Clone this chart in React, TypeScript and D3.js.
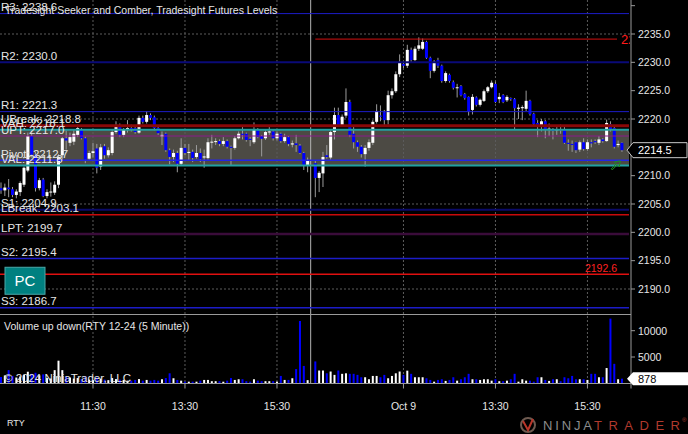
import * as d3 from "d3";
import React from "react";

// RTY 12-24, 5 minute bars: [open, high, low, close]
const session1Bars: number[][] = [
  [2207.8, 2208.8, 2206.8, 2207.4], [2207.4, 2208.6, 2206.4, 2207.9], [2207.9, 2209.4, 2206.2, 2207.6],
  [2207.6, 2208.0, 2206.2, 2206.6], [2206.6, 2207.6, 2206.0, 2207.2], [2207.1, 2209.0, 2206.4, 2208.7],
  [2208.4, 2211.6, 2208.0, 2211.4], [2210.9, 2217.6, 2210.6, 2217.0], [2217.0, 2218.0, 2213.2, 2213.7],
  [2213.7, 2214.2, 2207.2, 2207.8], [2207.8, 2209.6, 2207.4, 2209.2], [2209.3, 2209.6, 2206.2, 2206.4],
  [2206.4, 2207.6, 2206.0, 2207.1], [2207.1, 2208.8, 2206.3, 2207.2], [2207.0, 2209.0, 2206.6, 2208.4],
  [2208.4, 2213.8, 2207.8, 2213.3], [2213.6, 2216.8, 2212.8, 2216.6], [2216.6, 2218.0, 2214.6, 2216.2],
  [2215.8, 2217.6, 2215.2, 2216.8], [2216.0, 2218.2, 2215.4, 2217.4], [2217.2, 2219.0, 2216.8, 2218.4],
  [2218.2, 2218.4, 2216.4, 2216.6], [2216.6, 2216.9, 2212.2, 2212.8], [2213.0, 2214.4, 2212.6, 2214.0],
  [2214.0, 2215.8, 2213.2, 2214.3], [2214.8, 2215.6, 2210.4, 2211.4], [2211.6, 2215.6, 2211.0, 2215.0],
  [2215.2, 2215.6, 2213.0, 2213.6], [2213.6, 2215.0, 2213.2, 2214.5], [2214.0, 2218.2, 2213.6, 2217.7],
  [2217.7, 2219.6, 2217.4, 2218.9], [2218.9, 2219.2, 2216.8, 2217.2], [2217.2, 2218.4, 2216.8, 2218.1],
  [2218.2, 2219.8, 2217.6, 2218.4], [2218.4, 2219.0, 2217.8, 2218.2], [2218.4, 2218.6, 2217.4, 2217.7],
  [2217.6, 2220.6, 2217.4, 2220.2], [2220.2, 2220.6, 2219.2, 2219.5], [2219.5, 2221.4, 2219.2, 2220.7],
  [2220.7, 2221.0, 2219.8, 2220.2], [2220.3, 2220.6, 2218.0, 2218.4], [2218.4, 2218.6, 2217.2, 2217.5],
  [2216.9, 2217.8, 2215.4, 2217.2], [2217.4, 2217.6, 2214.2, 2214.5], [2214.5, 2214.8, 2212.0, 2213.3],
  [2213.3, 2214.6, 2212.4, 2214.0], [2214.0, 2214.4, 2210.6, 2212.1], [2212.1, 2216.6, 2211.8, 2214.9],
  [2214.9, 2215.6, 2213.6, 2214.0], [2214.0, 2215.6, 2212.6, 2214.2], [2214.2, 2214.6, 2212.4, 2213.1],
  [2213.3, 2215.4, 2213.0, 2214.0], [2214.0, 2214.8, 2212.4, 2212.9], [2213.2, 2214.6, 2211.4, 2213.4],
  [2213.1, 2216.6, 2212.8, 2215.9], [2215.9, 2217.2, 2214.8, 2216.0], [2216.0, 2216.6, 2215.4, 2216.1],
  [2216.1, 2216.4, 2215.2, 2215.6], [2215.6, 2216.8, 2215.2, 2216.1], [2216.1, 2216.4, 2214.8, 2215.1],
  [2215.1, 2215.3, 2211.8, 2214.9], [2214.9, 2217.0, 2214.6, 2216.6], [2216.6, 2217.8, 2216.4, 2217.4],
  [2217.4, 2218.6, 2216.4, 2217.2], [2217.4, 2217.6, 2216.0, 2216.3], [2216.5, 2216.8, 2215.2, 2216.3],
  [2215.9, 2219.4, 2215.6, 2218.1], [2218.1, 2218.4, 2216.6, 2216.8], [2217.0, 2217.2, 2213.4, 2216.5],
  [2216.6, 2218.0, 2216.3, 2217.7], [2217.7, 2218.6, 2217.2, 2217.8], [2217.8, 2218.0, 2216.2, 2216.6],
  [2216.6, 2217.8, 2216.2, 2217.4], [2217.4, 2217.6, 2215.8, 2216.1], [2216.1, 2217.4, 2215.8, 2216.8],
  [2216.8, 2217.0, 2215.2, 2215.6], [2215.5, 2216.2, 2215.0, 2215.7], [2215.7, 2217.2, 2214.2, 2215.4],
  [2215.3, 2215.6, 2213.8, 2214.0], [2214.0, 2214.2, 2211.0, 2211.7], [2211.8, 2213.2, 2210.6, 2212.7],
];

const session2Bars: number[][] = [
  [2212.2, 2212.6, 2206.2, 2209.6], [2209.6, 2210.8, 2207.1, 2210.5], [2210.4, 2214.2, 2208.0, 2213.3],
  [2213.6, 2215.4, 2213.0, 2213.3], [2213.2, 2218.0, 2212.8, 2217.7], [2217.7, 2222.0, 2216.4, 2220.7],
  [2220.7, 2222.0, 2218.6, 2218.9], [2218.9, 2220.8, 2218.6, 2220.4], [2220.6, 2225.4, 2220.2, 2223.0],
  [2223.0, 2223.4, 2216.8, 2217.2], [2217.4, 2218.6, 2214.8, 2215.9], [2215.9, 2216.2, 2214.2, 2215.1],
  [2215.1, 2215.4, 2213.2, 2213.8], [2213.8, 2215.4, 2211.6, 2214.9], [2214.9, 2216.4, 2214.4, 2215.9],
  [2215.8, 2219.8, 2215.4, 2219.5], [2219.5, 2222.6, 2219.2, 2221.4], [2220.6, 2222.4, 2219.6, 2220.4],
  [2221.2, 2221.6, 2218.8, 2219.8], [2219.8, 2225.0, 2219.0, 2224.2], [2224.2, 2225.4, 2223.6, 2224.9],
  [2224.9, 2228.4, 2224.6, 2227.9], [2227.9, 2231.4, 2227.4, 2229.9], [2229.7, 2230.0, 2229.0, 2229.4],
  [2229.4, 2233.1, 2229.0, 2232.2], [2232.2, 2232.6, 2230.0, 2230.4], [2230.4, 2232.8, 2230.2, 2232.4],
  [2232.4, 2234.4, 2232.0, 2233.0], [2232.4, 2234.2, 2232.2, 2233.6], [2233.6, 2233.8, 2230.6, 2230.8],
  [2230.8, 2231.0, 2227.2, 2228.5], [2228.5, 2230.4, 2228.2, 2230.1], [2230.4, 2230.8, 2229.0, 2229.4],
  [2229.4, 2229.6, 2226.4, 2226.7], [2226.7, 2228.4, 2226.4, 2228.1], [2227.8, 2228.0, 2226.4, 2226.7],
  [2226.5, 2226.8, 2225.2, 2225.5], [2225.5, 2226.2, 2223.8, 2225.6], [2225.8, 2226.0, 2224.0, 2224.2],
  [2224.4, 2224.6, 2223.4, 2223.7], [2223.9, 2224.0, 2220.6, 2221.4], [2221.6, 2224.4, 2220.8, 2223.9],
  [2223.8, 2224.0, 2222.2, 2222.5], [2222.5, 2223.6, 2222.2, 2223.4], [2223.2, 2225.2, 2223.0, 2224.9],
  [2224.9, 2225.8, 2224.6, 2225.6], [2225.6, 2226.8, 2225.4, 2226.4], [2226.2, 2226.6, 2222.8, 2223.0],
  [2223.5, 2224.6, 2222.8, 2223.9], [2224.2, 2224.4, 2222.8, 2223.0], [2223.3, 2224.2, 2223.0, 2223.9],
  [2223.7, 2223.8, 2223.2, 2223.5], [2223.5, 2223.7, 2218.1, 2221.9], [2221.8, 2222.6, 2220.0, 2222.0],
  [2221.9, 2222.4, 2219.8, 2222.1], [2221.8, 2225.0, 2221.4, 2223.2], [2223.2, 2223.4, 2220.6, 2220.9],
  [2220.9, 2221.1, 2218.9, 2219.1], [2219.3, 2219.8, 2216.8, 2218.8], [2218.8, 2220.0, 2217.8, 2219.6],
  [2219.6, 2219.8, 2216.6, 2218.1], [2218.1, 2219.2, 2217.0, 2218.3], [2218.1, 2218.4, 2216.4, 2218.0],
  [2218.0, 2218.6, 2217.2, 2218.2], [2218.2, 2219.0, 2217.4, 2218.1], [2218.2, 2218.6, 2215.6, 2215.8],
  [2215.8, 2216.4, 2214.4, 2215.6], [2215.6, 2216.2, 2214.2, 2215.5], [2215.9, 2216.0, 2214.0, 2214.5],
  [2214.6, 2216.2, 2214.2, 2215.9], [2215.9, 2216.6, 2214.4, 2214.7], [2214.7, 2216.4, 2214.4, 2215.9],
  [2215.9, 2216.4, 2215.0, 2215.7], [2216.1, 2216.4, 2215.6, 2215.9], [2215.8, 2217.0, 2215.4, 2216.4],
  [2216.4, 2216.6, 2215.8, 2216.1], [2216.1, 2219.9, 2216.0, 2219.3], [2219.1, 2219.6, 2217.8, 2218.1],
  [2218.4, 2218.6, 2214.8, 2215.1], [2215.4, 2216.2, 2215.0, 2215.6], [2215.8, 2215.9, 2214.2, 2214.5],
];

const session1Volume = [
  1200, 1500, 2500, 1400, 1100, 1300, 1600, 2200, 1800, 2000,
  1500, 1700, 1000, 900, 2500, 4300, 2500, 1200, 1100, 900,
  1000, 800, 1300, 700, 600, 1100, 900, 700, 600, 1000,
  800, 700, 640, 500, 500, 640, 800, 500, 640, 500,
  640, 500, 770, 1000, 1900, 960, 640, 500, 310, 310,
  310, 310, 500, 640, 640, 400, 400, 400, 300, 500,
  1000, 640, 770, 770, 400, 310, 770, 500, 400, 400,
  400, 400, 310, 1400, 640, 640, 960, 2700, 11850, 3300,
  600,
];

const session2Volume = [
  4160, 2430, 2430, 1900, 2240, 1600, 2430, 1800,
  1900, 1800, 1800, 1600, 1150, 1150, 770, 1400, 1400, 1150,
  1600, 960, 1400, 1900, 2240, 1600, 2400, 1800, 1150, 1150,
  1150, 960, 640, 310, 640, 770, 450, 640, 1150, 500,
  770, 1150, 1800, 770, 770, 640, 770, 770, 500, 770,
  400, 400, 500, 770, 1800, 310, 770, 500, 500, 310,
  1150, 1150, 640, 450, 770, 770, 400, 1150, 960, 1400,
  770, 770, 770, 640, 1800, 1800, 1150, 1150, 2900, 12300,
  3700, 770, 878,
];

const session2Start = 82;

const levelNames = ["R3", "R2", "R1", "UBreak", "VAH", "UPT", "Pivot", "VAL", "S1", "LBreak", "LPT", "S2", "S3"];
const levelValues = [2238.6, 2230.0, 2221.3, 2218.8, 2218.1, 2217.0, 2212.7, 2211.8, 2204.9, 2203.1, 2199.7, 2195.4, 2186.7];
const levelLinePrices = [2238.6, 2230.0, 2221.3, 2218.8, 2218.1, 2217.0, 2212.7, 2211.8, 2204.0, 2203.1, 2199.7, 2195.4, 2186.7];

const priceTicks = [2190, 2195, 2200, 2205, 2210, 2215, 2220, 2225, 2230, 2235, 2240];
const priceLabels = [2190, 2195, 2200, 2205, 2210, 2215, 2220, 2225, 2230, 2235];
const gridPrices = [2190, 2205, 2220, 2235];
const timeTickIndex = [24, 48, 72, 105, 129, 153];
const timeTickLabels = ["11:30", "13:30", "15:30", "Oct 9", "13:30", "15:30"];
const volumeTicks = [5000, 10000];
const alertTop = 2234.1;
const alertBottom = 2192.6;

const levelStyle: Record<string, { color: string; width: number }> = {
  R3: { color: "#1c1cc8", width: 1 },
  R2: { color: "#0a0a78", width: 2 },
  R1: { color: "#1c1cc8", width: 1 },
  UBreak: { color: "#8a0808", width: 3 },
  VAH: { color: "#20a2a2", width: 2 },
  UPT: { color: "#8b1a8b", width: 1 },
  Pivot: { color: "#2424e6", width: 1.5 },
  VAL: { color: "#20a2a2", width: 2 },
  S1: { color: "#0a0a6a", width: 2 },
  LBreak: { color: "#c80a0a", width: 1.5 },
  LPT: { color: "#3a0c3a", width: 2.5 },
  S2: { color: "#1c1cc8", width: 1.5 },
  S3: { color: "#1c1cc8", width: 1.5 },
};

const FONT = "'Liberation Sans', Arial, sans-serif";
const W = 688;
const H = 434;
const plotRight = 631;
const priceBottom = 314.5;
const volBottom = 383.5;

export default function App() {
  const bars = [
    ...session1Bars.map((b, i) => ({ i, o: b[0], h: b[1], l: b[2], c: b[3], v: session1Volume[i] })),
    ...session2Bars.map((b, i) => ({ i: i + session2Start, o: b[0], h: b[1], l: b[2], c: b[3], v: session2Volume[i] })),
  ];
  const last = bars[bars.length - 1];

  const x = d3.scaleLinear().domain([0, 162]).range([1, 1 + 3.833 * 162]);
  const y = d3.scaleLinear().domain([2190, 2235]).range([289, 34]);
  const yv = d3.scaleLinear().domain([0, 10000]).range([383.3, 330.7]);

  const breakX = x(session2Start - 1) - 0.8;
  const vah = y(levelLinePrices[levelNames.indexOf("VAH")]);
  const val = y(levelLinePrices[levelNames.indexOf("VAL")]);
  const axisColor = "#9a9a9a";
  const textColor = "#e6e6e6";

  const yLast = y(last.c);
  const yLastVol = yv(last.v);
  const yPC = y(alertBottom);

  // the last-price marker covers the axis label under it
  const visiblePriceLabels = priceLabels.filter(p => Math.abs(y(p) - yLast) > 9);

  return (
    <svg width={W} height={H} style={{ position: "absolute", left: 0, top: 0, display: "block" }} fontFamily={FONT}>
      <defs>
        <clipPath id="plotClip">
          <rect x={0} y={0} width={plotRight - 1} height={priceBottom} />
        </clipPath>
        <clipPath id="volClip">
          <rect x={0} y={priceBottom + 1} width={plotRight - 1} height={volBottom - priceBottom - 1} />
        </clipPath>
      </defs>
      <rect x={0} y={0} width={W} height={H} fill="#000" />

      <g clipPath="url(#plotClip)">
        {/* value area */}
        <rect x={0} y={vah} width={plotRight - 2} height={val - vah} fill="#4c4a44" />

        {gridPrices.map(p => (
          <line key={p} x1={0} x2={plotRight} y1={y(p)} y2={y(p)} stroke="#5c5c5c" strokeDasharray="2,2" />
        ))}
      </g>

      {/* vertical grid */}
      {timeTickIndex.map((t, k) => (
        <line key={k} x1={x(t)} x2={x(t)} y1={0} y2={volBottom} stroke="#5c5c5c" strokeDasharray="2,2" />
      ))}
      <line x1={breakX} x2={breakX} y1={0} y2={volBottom} stroke="#b4b4b4" strokeWidth={1} />

      <g clipPath="url(#plotClip)">
        {/* candles */}
        {bars.map(b => {
          const up = b.c >= b.o;
          const top = y(Math.max(b.o, b.c));
          const bot = y(Math.min(b.o, b.c));
          return (
            <g key={b.i}>
              <line x1={x(b.i)} x2={x(b.i)} y1={y(b.h)} y2={y(b.l)} stroke="#9c9c9c" strokeWidth={1} />
              <rect x={x(b.i) - 1.5} y={top} width={3} height={Math.max(1, bot - top)} fill={up ? "#ffffff" : "#0000ff"} />
            </g>
          );
        })}

        {/* levels */}
        {levelNames.map((name, k) => {
          const ly = y(levelLinePrices[k]);
          const st = levelStyle[name];
          return (
            <line key={name} x1={0} x2={plotRight - 2} y1={ly} y2={ly} stroke={st.color} strokeWidth={st.width} />
          );
        })}
        <line x1={x(session2Start)} x2={617} y1={y(alertTop)} y2={y(alertTop)} stroke="#d41010" strokeWidth={1} />
        <text x={621} y={y(alertTop) + 5} fontSize={13} fill="#ff1a1a">{alertTop.toFixed(1)}</text>
        <line x1={0} x2={plotRight - 2} y1={yPC} y2={yPC} stroke="#e01010" strokeWidth={1.5} />
        <text x={617} y={yPC - 2} fontSize={10.5} fill="#ff2020" textAnchor="end">{alertBottom.toFixed(1)}</text>

        {levelNames.map((name, k) => (
          <text key={name} x={1} y={y(levelLinePrices[k]) - 2.5} fontSize={11.5} fill={textColor}>
            {`${name}: ${levelValues[k].toFixed(1)}`}
          </text>
        ))}

        {/* drawing tool mark near last bar */}
        <path
          transform={`translate(${x(160) - 3},${y(last.l) + 9})`}
          d="M0,8 L5,3 L3,1 L9,0 L8,6 L6,4 L1,9 Z"
          fill="none"
          stroke="#1f8f1f"
          strokeWidth={1}
        />
      </g>

      {/* PC button */}
      <rect x={5} y={yPC - 7} width={40} height={27} fill="#008080" stroke="#4aa8a8" strokeWidth={1} />
      <text x={25} y={yPC + 11.5} fontSize={15} fill="#ffffff" textAnchor="middle">PC</text>

      <text x={5} y={14} fontSize={10.5} fill={textColor}>Tradesight Seeker and Comber, Tradesight Futures Levels</text>

      {/* volume */}
      <g clipPath="url(#volClip)">
        {bars.map(b => (
          <rect
            key={b.i}
            x={x(b.i) - 1}
            y={yv(b.v)}
            width={2}
            height={yv(0) - yv(b.v)}
            fill={b.c >= b.o ? "#ffffff" : "#0000ff"}
          />
        ))}
      </g>
      <text x={4} y={330} fontSize={10.5} fill={textColor}>Volume up down(RTY 12-24 (5 Minute))</text>
      <text x={4} y={382} fontSize={11.5} fill={textColor}>© 2024 NinjaTrader, LLC</text>

      {/* panel frame */}
      <line x1={0} x2={plotRight} y1={priceBottom} y2={priceBottom} stroke={axisColor} />
      <line x1={0} x2={plotRight} y1={volBottom} y2={volBottom} stroke={axisColor} />
      <line x1={plotRight} x2={plotRight} y1={0} y2={volBottom + 5} stroke={axisColor} />

      {/* price axis */}
      {priceTicks.map(p => (
        <line key={p} x1={plotRight} x2={plotRight + 4} y1={y(p)} y2={y(p)} stroke={axisColor} />
      ))}
      {visiblePriceLabels.map(p => (
        <text key={p} x={638} y={y(p) + 3.8} fontSize={10.5} fill={textColor}>{p.toFixed(1)}</text>
      ))}
      <path
        d={`M${plotRight - 4},${yLast} L${plotRight + 2},${yLast - 7.5} L${W - 1},${yLast - 7.5} L${W - 1},${yLast + 7.5} L${plotRight + 2},${yLast + 7.5} Z`}
        fill="#000"
        stroke="#c8c8c8"
      />
      <text x={638} y={yLast + 4} fontSize={11} fill="#ffffff">{last.c.toFixed(1)}</text>

      {/* volume axis */}
      {volumeTicks.map(v => (
        <g key={v}>
          <line x1={plotRight} x2={plotRight + 4} y1={yv(v)} y2={yv(v)} stroke={axisColor} />
          <text x={638} y={yv(v) + 3.8} fontSize={10.5} fill={textColor}>{v}</text>
        </g>
      ))}
      <path
        d={`M${plotRight - 4},${yLastVol} L${plotRight + 2},${yLastVol - 6.5} L${W},${yLastVol - 6.5} L${W},${yLastVol + 6.5} L${plotRight + 2},${yLastVol + 6.5} Z`}
        fill="#ffffff"
      />
      <text x={638} y={yLastVol + 4} fontSize={11} fill="#000">{last.v}</text>

      {/* time axis */}
      {timeTickIndex.map((t, k) => (
        <g key={k}>
          <line x1={x(t)} x2={x(t)} y1={volBottom} y2={volBottom + 5} stroke={axisColor} />
          <text x={x(t)} y={410} fontSize={10.5} fill={textColor} textAnchor="middle">{timeTickLabels[k]}</text>
        </g>
      ))}
      <text x={7} y={426} fontSize={9} fill={textColor}>RTY</text>

      {/* logo */}
      <g>
        <circle cx={528} cy={425} r={7} fill="none" stroke="#6e5a50" strokeWidth={2} />
        <path d="M523,421 L528,430 L533,419" fill="none" stroke="#b8362a" strokeWidth={2} />
        <text x={543} y={430} fontSize={13} fill="#8c8c8c" textLength={49} lengthAdjust="spacing">NINJA</text>
        <text x={594} y={430} fontSize={13} fill="#b03a2e" textLength={86} lengthAdjust="spacing">TRADER</text>
        <text x={682} y={422} fontSize={6} fill="#b03a2e">®</text>
      </g>
    </svg>
  );
}
